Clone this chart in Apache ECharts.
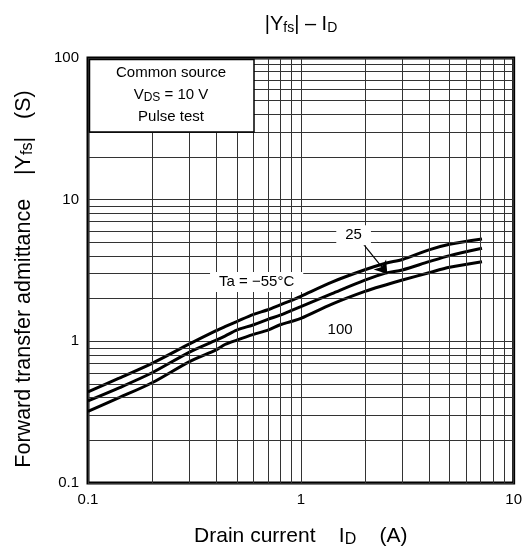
<!DOCTYPE html>
<html><head><meta charset="utf-8">
<script src="https://cdn.jsdelivr.net/npm/echarts@6/dist/echarts.min.js"></script>
<style>html,body{margin:0;padding:0;background:#fff}#c{width:525px;height:554px}</style>
</head><body><div id="c"></div>
<script>
// ---- data ----
const drainCurrent = [0.1, 0.14, 0.2, 0.3, 0.4, 0.44, 0.5, 0.6, 0.7, 0.8, 0.9, 1, 1.4, 2, 2.5, 3, 4, 5, 7.1];
const yfsMinus55 = [0.44, 0.55, 0.70, 0.96, 1.19, 1.27, 1.38, 1.55, 1.67, 1.81, 1.94, 2.08, 2.62, 3.20, 3.56, 3.78, 4.42, 4.84, 5.28];
const yfs25      = [0.38, 0.47, 0.60, 0.84, 1.02, 1.09, 1.20, 1.31, 1.43, 1.53, 1.65, 1.76, 2.17, 2.70, 3.03, 3.19, 3.65, 4.03, 4.54];
const yfs100     = [0.32, 0.40, 0.51, 0.72, 0.87, 0.95, 1.02, 1.12, 1.20, 1.31, 1.38, 1.45, 1.83, 2.25, 2.50, 2.71, 3.05, 3.33, 3.65];
const xTickLabels = ['0.1', '1', '10'];
const yTickLabels = ['0.1', '1', '10', '100'];
const xMinorGrid = [0.2, 0.3, 0.4, 0.5, 0.6, 0.7, 0.8, 0.9, 2, 3, 4, 5, 6, 7, 8, 9];
const yMinorGrid = [0.2, 0.3, 0.4, 0.5, 0.6, 0.7, 0.8, 0.9, 2, 3, 4, 5, 6, 7, 8, 9, 20, 30, 40, 50, 60, 70, 80, 90];
const curveNames = ['Ta = −55°C', '25', '100'];
const labelCoords = [[0.62, 2.62], [1.77, 5.6], [1.53, 1.2]];
const arrowFrom = [1.95, 4.94];
const arrowTo = [2.55, 2.99];

const FONT = '"Liberation Sans", Arial, Helvetica, sans-serif';
const pair = (xs, ys) => xs.map((x, i) => [x, ys[i]]);
const curveStyle = { type: 'line', smooth: 0.3, symbol: 'none', z: 3, silent: true,
  lineStyle: { color: '#000', width: 3 }, animation: false };

const chart = echarts.init(document.getElementById('c'), null, { renderer: 'canvas' });
chart.setOption({
  backgroundColor: '#fff',
  animation: false,
  color: ['#000'],
  textStyle: { fontFamily: FONT },
  grid: { left: 88, right: 11, top: 58, bottom: 71, show: true, borderColor: '#000', borderWidth: 3, backgroundColor: 'transparent' },
  xAxis: {
    type: 'log', logBase: 10, min: 0.1, max: 10,
    axisLine: { show: false }, axisTick: { show: false },
    splitLine: { show: true, lineStyle: { color: '#333', width: 1 } },
    axisLabel: { color: '#000', fontSize: 15, fontFamily: FONT, margin: 9,
      formatter: v => xTickLabels[Math.round(Math.log10(v)) + 1] },
    name: 'Drain current    I{s|D}    (A)', nameLocation: 'middle', nameGap: 41,
    nameTextStyle: { color: '#000', fontSize: 21, fontFamily: FONT,
      rich: { s: { fontSize: 16, fontFamily: FONT, color: '#000', padding: [8, 0, 0, 0] } } }
  },
  yAxis: {
    type: 'log', logBase: 10, min: 0.1, max: 100,
    axisLine: { show: false }, axisTick: { show: false },
    splitLine: { show: true, lineStyle: { color: '#333', width: 1 } },
    axisLabel: { color: '#000', fontSize: 15, fontFamily: FONT, margin: 9,
      formatter: v => yTickLabels[Math.round(Math.log10(v)) + 1] },
    name: 'Forward transfer admittance    |Y{s|fs}|   (S)', nameLocation: 'middle', nameGap: 52,
    nameTextStyle: { color: '#000', fontSize: 21.5, fontFamily: FONT, padding: [0, 17, 0, 0],
      rich: { s: { fontSize: 16, fontFamily: FONT, color: '#000', padding: [8, 0, 0, 0] } } }
  },
  series: [
    { type: 'line', data: [], z: 1, silent: true, animation: false,
      markLine: { silent: true, symbol: 'none', animation: false, label: { show: false },
        lineStyle: { color: '#333', width: 1, type: 'solid', opacity: 1 },
        data: xMinorGrid.map(v => ({ xAxis: v })).concat(yMinorGrid.map(v => ({ yAxis: v }))) } },
    Object.assign({ name: curveNames[0], data: pair(drainCurrent, yfsMinus55) }, curveStyle),
    Object.assign({ name: curveNames[1], data: pair(drainCurrent, yfs25) }, curveStyle),
    Object.assign({ name: curveNames[2], data: pair(drainCurrent, yfs100) }, curveStyle),
    { type: 'line', z: 6, silent: true, animation: false, data: [], itemStyle: { color: '#000' }, lineStyle: { color: '#000' },
      markLine: { silent: true, animation: false, symbol: ['none', 'arrow'], symbolSize: 12, label: { show: false },
        lineStyle: { color: '#000', width: 1.2, type: 'solid', opacity: 1 },
        data: [[{ coord: arrowFrom }, { coord: arrowTo }]] },
      markPoint: { silent: true, animation: false, symbol: 'rect', symbolSize: 1,
        itemStyle: { color: '#fff', opacity: 1 },
        data: labelCoords.map((c, i) => ({ coord: c, name: curveNames[i] })),
        label: { show: true, position: 'inside', formatter: p => p.name, color: '#000', opacity: 1, fontSize: 15, fontFamily: FONT,
          textBorderWidth: 0, textBorderColor: 'transparent', textShadowBlur: 0,
          backgroundColor: '#fff', padding: [3, 9, 2, 9] } } }
  ],
  graphic: [
    { type: 'text', z: 10, x: 301, y: 24, silent: true,
      style: { text: '|Y{s|fs}| – I{s|D}', fill: '#000', fontSize: 20, fontFamily: FONT, align: 'center', verticalAlign: 'middle',
        rich: { s: { fontSize: 14, fontFamily: FONT, fill: '#000', padding: [8, 0, 0, 0] } } } },
    { type: 'group', z: 10, silent: true, children: [
      { type: 'rect', z: 10, shape: { x: 89.5, y: 59.5, width: 164.5, height: 72.5 },
        style: { fill: '#fff', stroke: '#000', lineWidth: 1.5 } },
      { type: 'text', z: 11, x: 171, y: 95,
        style: { text: 'Common source\nV{s|DS} = 10 V\nPulse test', fill: '#000', fontSize: 15, fontFamily: FONT,
          align: 'center', verticalAlign: 'middle', lineHeight: 22,
          rich: { s: { fontSize: 12, fontFamily: FONT, fill: '#000', padding: [6, 0, 0, 0], lineHeight: 22 } } } }
    ] }
  ]
});
</script></body></html>
